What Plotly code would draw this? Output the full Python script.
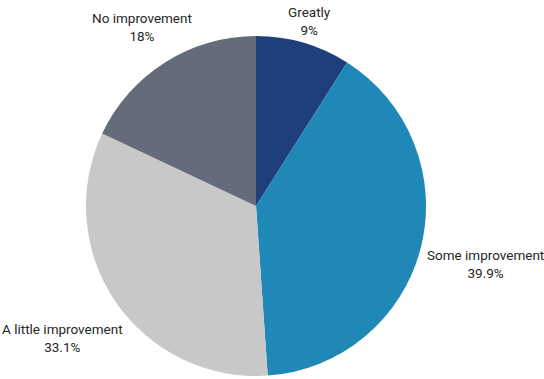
import math
import plotly.graph_objects as go

# Share of respondents by degree of improvement
categories = ["Greatly", "Some improvement", "A little improvement", "No improvement"]
shares = [9, 39.9, 33.1, 18]
colors = ["#1f3f7c", "#1f88b6", "#c8c8c8", "#666b7a"]

# Label distance from the pie centre, as a multiple of the pie radius
label_dist = [1.134, 1.392, 1.376, 1.25]

W, H = 544, 379
margin = dict(l=0, r=32, t=36, b=3)
plot_w = W - margin["l"] - margin["r"]
plot_h = H - margin["t"] - margin["b"]
radius_px = min(plot_w, plot_h) / 2

fig = go.Figure(
    go.Pie(
        labels=categories,
        values=shares,
        sort=False,
        direction="clockwise",
        rotation=0,
        marker=dict(colors=colors, line=dict(width=0)),
        textinfo="none",
        hoverinfo="label+value",
        showlegend=False,
    )
)

# Outside labels placed along each slice's mid-angle
total = sum(shares)
cum = 0.0
annotations = []
for cat, val, k in zip(categories, shares, label_dist):
    mid = (cum + val / 2) / total * 2 * math.pi
    cum += val
    dx = k * radius_px * math.sin(mid)
    dy = k * radius_px * math.cos(mid)
    annotations.append(
        dict(
            x=0.5 + dx / plot_w,
            y=0.5 + dy / plot_h,
            xref="paper",
            yref="paper",
            text=f"{cat}<br>{val}%",
            showarrow=False,
            xanchor="center",
            yanchor="middle",
            align="center",
            font=dict(family="Roboto", size=13.5, color="#262626"),
        )
    )

fig.update_layout(
    width=W,
    height=H,
    margin=margin,
    paper_bgcolor="white",
    plot_bgcolor="white",
    font=dict(family="Roboto"),
    annotations=annotations,
)

fig.write_html("out.html")
